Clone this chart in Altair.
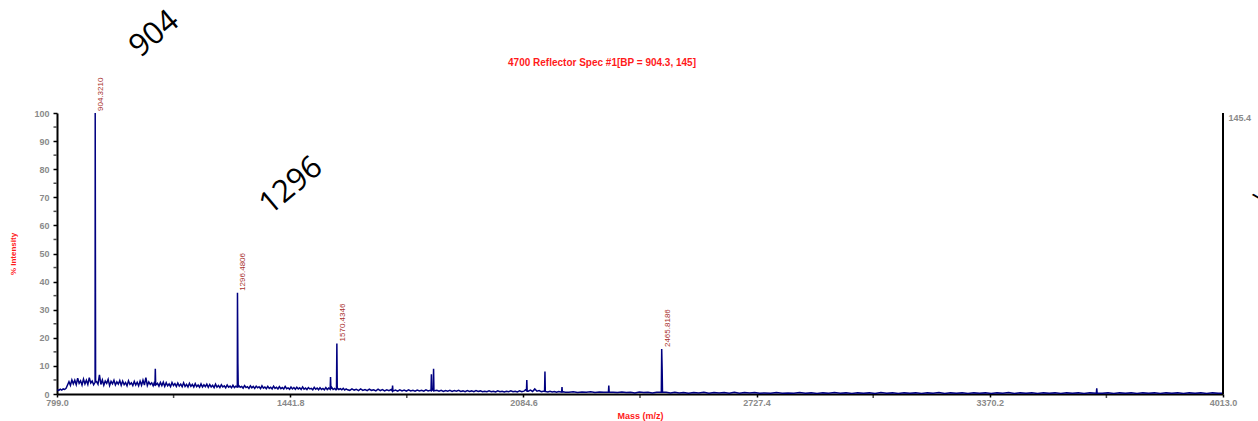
import altair as alt
import pandas as pd

# ---- baseline (noise) readings, dense part 800-1600 ----
noise_mass_a = [
    800, 804, 808, 812, 816, 820, 824, 828, 832, 836, 840, 844, 848, 852, 856,
    860, 864, 868, 872, 876, 880, 884, 888, 892, 896, 900, 904, 908, 912, 916,
    920, 924, 928, 932, 936, 940, 944, 948, 952, 956, 960, 964, 968, 972, 976,
    980, 984, 988, 992, 996, 1000, 1004, 1008, 1012, 1016, 1020, 1024, 1028, 1032, 1036,
    1040, 1044, 1048, 1052, 1056, 1060, 1064, 1068, 1072, 1076, 1080, 1084, 1088, 1092, 1096,
    1100, 1104, 1108, 1112, 1116, 1120, 1124, 1128, 1132, 1136, 1140, 1144, 1148, 1152, 1156,
    1160, 1164, 1168, 1172, 1176, 1180, 1184, 1188, 1192, 1196, 1200, 1204, 1208, 1212, 1216,
    1220, 1224, 1228, 1232, 1236, 1240, 1244, 1248, 1252, 1256, 1260, 1264, 1268, 1272, 1276,
    1280, 1284, 1288, 1292, 1296, 1300, 1304, 1308, 1312, 1316, 1320, 1324, 1328, 1332, 1336,
    1340, 1344, 1348, 1352, 1356, 1360, 1364, 1368, 1372, 1376, 1380, 1384, 1388, 1392, 1396,
    1400, 1404, 1408, 1412, 1416, 1420, 1424, 1428, 1432, 1436, 1440, 1444, 1448, 1452, 1456,
    1460, 1464, 1468, 1472, 1476, 1480, 1484, 1488, 1492, 1496, 1500, 1504, 1508, 1512, 1516,
    1520, 1524, 1528, 1532, 1536, 1540, 1544, 1548, 1552, 1556, 1560, 1564, 1568, 1572, 1576,
    1580, 1584, 1588, 1592, 1596, 1600,
]
noise_int_a = [
    1.5, 1.3, 1.7, 1.4, 1.8, 1.6, 2.0, 3.2, 4.4, 3.1, 5.0, 3.6, 4.9, 3.3, 5.6,
    3.8, 4.7, 3.2, 5.3, 3.6, 4.9, 3.4, 5.8, 3.9, 4.6, 3.3, 4.2, 4.4, 3.5, 6.8,
    3.4, 5.0, 3.1, 4.6, 3.8, 5.2, 3.0, 4.5, 3.6, 4.9, 3.2, 4.3, 3.5, 4.8, 3.1,
    4.6, 3.3, 4.1, 2.9, 4.7, 3.4, 4.0, 3.0, 4.5, 3.2, 4.2, 2.9, 4.6, 3.1, 4.9,
    3.2, 5.8, 3.0, 4.3, 3.4, 4.0, 2.9, 4.4, 3.3, 3.8, 2.8, 4.1, 3.0, 4.2, 2.7,
    4.0, 2.9, 3.6, 2.6, 4.1, 3.0, 3.7, 2.7, 3.9, 2.8, 3.5, 2.6, 4.0, 2.7, 3.4,
    2.5, 3.8, 2.7, 3.4, 2.5, 3.7, 2.6, 3.2, 2.4, 3.6, 2.5, 3.3, 2.6, 3.5, 2.4,
    3.4, 2.5, 3.1, 2.3, 3.5, 2.4, 3.0, 2.3, 3.3, 2.5, 2.9, 2.2, 3.2, 2.4, 2.8,
    2.2, 3.1, 2.3, 2.8, 2.2, 3.0, 2.4, 2.7, 2.1, 3.0, 2.3, 2.6, 2.0, 2.9, 2.2,
    2.7, 2.0, 2.8, 2.2, 2.6, 1.9, 2.9, 2.1, 2.5, 1.9, 2.7, 2.0, 2.4, 1.8, 2.8,
    2.0, 2.4, 1.8, 2.6, 1.9, 2.3, 1.8, 2.7, 1.9, 2.2, 1.7, 2.5, 1.8, 2.3, 1.7,
    2.4, 1.8, 2.2, 1.6, 2.5, 1.7, 2.1, 1.6, 2.3, 1.8, 2.0, 1.5, 2.4, 1.7, 2.1,
    1.5, 2.2, 1.6, 2.0, 1.5, 2.3, 1.6, 2.1, 1.7, 2.4, 1.6, 2.0, 1.5, 2.1, 1.6,
    1.9, 1.5, 2.0, 1.4, 1.8, 1.5,
]

# ---- baseline readings 1606-2200 ----
noise_mass_b = [
    1606, 1612, 1618, 1624, 1630, 1636, 1642, 1648, 1654, 1660, 1666, 1672, 1678, 1684, 1690,
    1696, 1702, 1708, 1714, 1720, 1726, 1732, 1738, 1744, 1750, 1756, 1762, 1768, 1774, 1780,
    1786, 1792, 1798, 1804, 1810, 1816, 1822, 1828, 1834, 1840, 1846, 1852, 1858, 1864, 1870,
    1876, 1882, 1888, 1894, 1900, 1906, 1912, 1918, 1924, 1930, 1936, 1942, 1948, 1954, 1960,
    1966, 1972, 1978, 1984, 1990, 1996, 2002, 2008, 2014, 2020, 2026, 2032, 2038, 2044, 2050,
    2056, 2062, 2068, 2074, 2080, 2086, 2092, 2098, 2104, 2110, 2116, 2122, 2128, 2134, 2140,
    2146, 2152, 2158, 2164, 2170, 2176, 2182, 2188, 2194, 2200,
]
noise_int_b = [
    1.3, 1.8, 1.4, 1.7, 1.2, 1.8, 1.3, 1.6, 1.2, 1.7, 1.3, 1.5, 1.1, 1.7, 1.2,
    1.6, 1.1, 1.5, 1.2, 1.6, 1.1, 1.4, 1.0, 1.5, 1.1, 1.4, 1.0, 1.5, 1.1, 1.3,
    1.0, 1.4, 1.1, 1.3, 1.0, 1.5, 1.1, 1.3, 1.6, 1.2, 1.3, 1.0, 1.3, 0.9, 1.2,
    1.0, 1.3, 0.9, 1.2, 1.0, 1.3, 0.9, 1.1, 0.8, 1.2, 0.9, 1.1, 0.8, 1.2, 0.9,
    1.1, 0.8, 1.0, 0.8, 1.1, 0.8, 1.0, 0.7, 1.1, 0.8, 1.0, 0.7, 1.0, 0.8, 1.1,
    0.8, 1.0, 0.7, 1.1, 0.8, 1.0, 1.7, 1.0, 1.4, 0.9, 1.8, 1.0, 1.2, 0.8, 1.0,
    0.9, 0.7, 1.0, 0.7, 0.9, 0.6, 0.9, 0.7, 0.8, 0.6,
]

# ---- baseline readings 2210-4013 ----
noise_mass_c = [
    2210, 2222, 2234, 2246, 2258, 2270, 2282, 2294, 2306, 2332, 2344, 2356, 2368,
    2380, 2392, 2404, 2416, 2428, 2440, 2452, 2478, 2490, 2502, 2514, 2526, 2540, 2554, 2568,
    2582, 2596, 2610, 2624, 2638, 2652, 2666, 2680, 2694, 2708, 2722, 2736, 2750, 2766, 2782,
    2798, 2814, 2830, 2846, 2862, 2878, 2894, 2910, 2926, 2942, 2958, 2974, 2990, 3006, 3022,
    3038, 3054, 3070, 3086, 3102, 3118, 3134, 3150, 3166, 3182, 3198, 3214, 3230, 3246, 3262,
    3278, 3294, 3310, 3326, 3342, 3358, 3374, 3390, 3406, 3422, 3438, 3454, 3470, 3486, 3502,
    3518, 3534, 3550, 3566, 3582, 3598, 3614, 3630, 3646, 3680, 3696, 3712, 3728, 3744, 3760,
    3776, 3792, 3808, 3824, 3840, 3856, 3872, 3888, 3904, 3920, 3936, 3952, 3968, 3984, 4000,
    4013,
]
noise_int_c = [
    0.6, 0.8, 0.5, 0.7, 0.6, 0.8, 0.5, 0.7, 0.6, 0.6, 0.5, 0.7, 0.5,
    0.6, 0.4, 0.7, 0.5, 0.6, 0.4, 0.6, 0.6, 0.4, 0.6, 0.4, 0.5, 0.3, 0.5, 0.4,
    0.6, 0.3, 0.5, 0.4, 0.5, 0.3, 0.6, 0.3, 0.5, 0.4, 0.5, 0.3, 0.4, 0.3, 0.5,
    0.3, 0.4, 0.3, 0.5, 0.3, 0.4, 0.2, 0.4, 0.3, 0.5, 0.3, 0.4, 0.2, 0.4, 0.3,
    0.4, 0.2, 0.5, 0.3, 0.4, 0.2, 0.4, 0.3, 0.4, 0.2, 0.4, 0.3, 0.5, 0.2, 0.4,
    0.3, 0.4, 0.2, 0.4, 0.3, 0.4, 0.2, 0.4, 0.3, 0.5, 0.2, 0.4, 0.3, 0.4, 0.2,
    0.4, 0.3, 0.4, 0.2, 0.4, 0.3, 0.4, 0.2, 0.4, 0.3, 0.4, 0.2, 0.4, 0.3, 0.4,
    0.2, 0.4, 0.3, 0.4, 0.2, 0.4, 0.3, 0.4, 0.2, 0.4, 0.3, 0.4, 0.2, 0.4, 0.3,
    0.3,
]

# ---- peaks (with their foot points) ----
peak_mass = [903.2, 904.32, 905.4, 1069, 1070, 1071, 1295.5, 1296.48, 1297.6, 1298.6,
             1552, 1553, 1554, 1569.4, 1570.43, 1571.5, 1723, 1724, 1725,
             1830, 1831, 1832, 1836, 1837, 1838, 2093, 2094, 2095, 2143, 2144, 2145,
             2190, 2191, 2192, 2319, 2320, 2321, 2464.8, 2465.82, 2467.0, 2468,
             3664, 3665, 3666]
peak_int = [4.0, 100, 4.3, 3.0, 9, 3.2, 2.5, 36, 11, 2.4,
            1.7, 6, 1.8, 1.6, 18, 1.7, 1.1, 3, 1.2,
            1.2, 7, 1.3, 1.3, 9, 1.2, 1.0, 5, 1.0, 1.0, 8, 0.9,
            0.7, 2.5, 0.7, 0.6, 3, 0.6, 0.6, 16, 9, 0.6,
            0.3, 2, 0.3]

# ---- labelled peaks ----
label_mass = [904.3210, 1296.4806, 1570.4346, 2465.8186]
label_int = [100, 36, 18, 16]
label_text = ["904.3210", "1296.4806", "1570.4346", "2465.8186"]

# ---- handwritten annotations ----
note_text = ["904", "1296"]
note_mass = [1068, 1445]
note_int = [128, 74]

title_text = "4700 Reflector Spec #1[BP = 904.3, 145]"
x_major = [799.0, 1441.8, 2084.6, 2727.4, 3370.2, 4013.0]
x_minor = [1120.4, 1763.2, 2406.0, 3048.8, 3691.6]
y_major = [0, 10, 20, 30, 40, 50, 60, 70, 80, 90, 100]
y_minor = [5, 15, 25, 35, 45, 55, 65, 75, 85, 95]
abs_max = 145.4

spec = pd.DataFrame({
    "mass": noise_mass_a + noise_mass_b + noise_mass_c + peak_mass,
    "intensity": noise_int_a + noise_int_b + noise_int_c + peak_int,
}).sort_values("mass")
labels = pd.DataFrame({"mass": label_mass, "intensity": label_int, "text": label_text})
notes = pd.DataFrame({"mass": note_mass, "intensity": note_int, "text": note_text})
xminor_df = pd.DataFrame({"mass": x_minor, "intensity": [0] * len(x_minor)})
yminor_df = pd.DataFrame({"mass": [799.0] * len(y_minor), "intensity": y_minor})

GREY = "#8a8a8a"
RED = "#ff1a1a"

xscale = alt.Scale(domain=[799.0, 4013.0], nice=False, zero=False)
yscale = alt.Scale(domain=[0, 100], nice=False)

x_axis = alt.Axis(
    values=x_major, tickCount=40, format=".1f", title="Mass (m/z)", grid=False,
    domainColor="black", domainWidth=2, tickColor="black", tickWidth=1.5, tickSize=3,
    labelColor=GREY, labelFont="Liberation Sans", labelFontSize=9, labelFontWeight="bold",
    labelPadding=1, labelFlush=False, labelOverlap=False,
    titleColor=RED, titleFont="Liberation Sans", titleFontSize=9, titleFontWeight="bold",
    titlePadding=4,
)
y_axis = alt.Axis(
    values=y_major, tickCount=40, format="d", title="% Intensity", grid=False,
    domainColor="black", domainWidth=2, tickColor="black", tickWidth=1.5, tickSize=4,
    labelColor=GREY, labelFont="Liberation Sans", labelFontSize=9, labelFontWeight="bold",
    labelPadding=4, labelFlush=False, labelOverlap=False,
    titleColor=RED, titleFont="Liberation Sans", titleFontSize=8, titleFontWeight="bold",
    titlePadding=16,
)

line = alt.Chart(spec).mark_line(color="#000080", strokeWidth=1.5, clip=True).encode(
    x=alt.X("mass:Q", scale=xscale, axis=x_axis),
    y=alt.Y("intensity:Q", scale=yscale, axis=y_axis),
)

xminor_ticks = alt.Chart(xminor_df).mark_tick(
    orient="vertical", color="black", size=3, thickness=1.5, yOffset=2.5,
).encode(
    x=alt.X("mass:Q", scale=xscale),
    y=alt.Y("intensity:Q", scale=yscale),
)
yminor_ticks = alt.Chart(yminor_df).mark_tick(
    orient="horizontal", color="black", size=3, thickness=1.5, xOffset=-2,
).encode(
    x=alt.X("mass:Q", scale=xscale),
    y=alt.Y("intensity:Q", scale=yscale),
)

peak_labels = alt.Chart(labels).mark_text(
    angle=270, align="left", baseline="top", fontSize=8, font="Liberation Sans",
    color="#a8302c", xOffset=2, yOffset=-2,
).encode(
    x=alt.X("mass:Q", scale=xscale),
    y=alt.Y("intensity:Q", scale=yscale),
    text="text:N",
)

big_notes = alt.Chart(notes).mark_text(
    angle=320, align="center", baseline="middle", fontSize=31, font="Open Sans",
    color="black",
).encode(
    x=alt.X("mass:Q", scale=xscale),
    y=alt.Y("intensity:Q", scale=yscale),
    text="text:N",
)

edge_note = alt.Chart(pd.DataFrame({"mass": [4122], "intensity": [70], "text": ["V"]})).mark_text(
    angle=320, align="center", baseline="middle", fontSize=22, font="Open Sans", color="black",
).encode(
    x=alt.X("mass:Q", scale=xscale),
    y=alt.Y("intensity:Q", scale=yscale),
    text="text:N",
)

title = alt.Chart(pd.DataFrame({"text": [title_text]})).mark_text(
    align="center", baseline="middle", fontSize=10, fontWeight="bold",
    font="Liberation Sans", color=RED,
).encode(
    x=alt.value(545), y=alt.value(-50), text="text:N",
)

right_axis = alt.Chart(pd.DataFrame({"mass": [4013.0], "lo": [0.0], "hi": [abs_max]})).mark_rule(
    color="black", strokeWidth=2,
).encode(
    x=alt.X("mass:Q", scale=xscale),
    y=alt.Y("lo:Q", scale=alt.Scale(domain=[0, abs_max], nice=False),
            axis=alt.Axis(orient="right", values=[abs_max], format=".1f", title=None,
                          grid=False, domain=False, ticks=False,
                          labelColor=GREY, labelFont="Liberation Sans", labelFontSize=9,
                          labelFontWeight="bold", labelBaseline="top", labelPadding=5)),
    y2="hi:Q",
)

main = alt.layer(line, xminor_ticks, yminor_ticks, peak_labels, big_notes, edge_note, title)
chart = alt.layer(main, right_axis).resolve_scale(y="independent").properties(
    width=1166, height=281,
    padding={"left": 57, "top": 113, "right": 35, "bottom": 27},
    autosize=alt.AutoSizeParams(type="none"),
).configure_view(stroke=None)

chart.save("out.html", embed_options={"renderer": "svg", "actions": False})
